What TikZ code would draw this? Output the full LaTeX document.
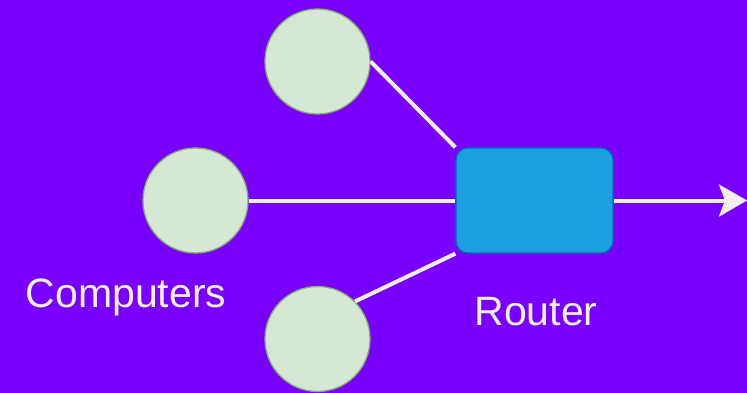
\documentclass[tikz,border=0pt]{standalone}
\usepackage{fontspec}
\setmainfont{Liberation Sans}
\usetikzlibrary{arrows.meta}
\definecolor{bgpurple}{HTML}{7900FF}
\definecolor{pcfill}{HTML}{D5E8D4}
\definecolor{pcline}{HTML}{82B366}
\definecolor{rtfill}{HTML}{1BA1E2}
\definecolor{rtline}{HTML}{006EAF}
\definecolor{wire}{HTML}{F0F0F0}
\tikzset{
  computer/.style={circle, minimum size=105pt, inner sep=0pt, fill=pcfill, draw=pcline, line width=1.3pt},
  router/.style={rectangle, rounded corners=12pt, minimum width=157pt, minimum height=105pt, inner sep=0pt, fill=rtfill, draw=rtline, line width=1.3pt},
  link/.style={draw=wire, line width=4pt},
  uplink/.style={link, -{Stealth[length=28pt, width=32pt, inset=6pt]}, fill=wire},
  caption/.style={text=wire, font=\fontsize{41}{49}\selectfont, anchor=base, inner sep=0pt}
}
\begin{document}
\begin{tikzpicture}[x=1pt, y=-1pt]
  % canvas
  \fill[bgpurple] (0,0) rectangle (747,393);
  \useasboundingbox (0,0) rectangle (747,393);

  % hosts and router
  \node[computer] (pc1) at (317.5,61.5) {};
  \node[computer] (pc2) at (195.5,200.5) {};
  \node[computer] (pc3) at (317.5,339) {};
  \node[router] (rt) at (534.5,200.5) {};
  \coordinate (out) at (747,200.5);

  % cabling
  \draw[link] (pc1.east) -- (rt.north west);
  \draw[link] (pc2.east) -- (rt.west);
  \draw[link] (pc3.45) -- (rt.south west);
  \draw[uplink] (rt.east) -- (out);

  % labels
  \node[caption] (lblpc) at (126,307) {Computers};
  \node[caption] (lblrt) at (536,325) {Router};
\end{tikzpicture}
\end{document}
